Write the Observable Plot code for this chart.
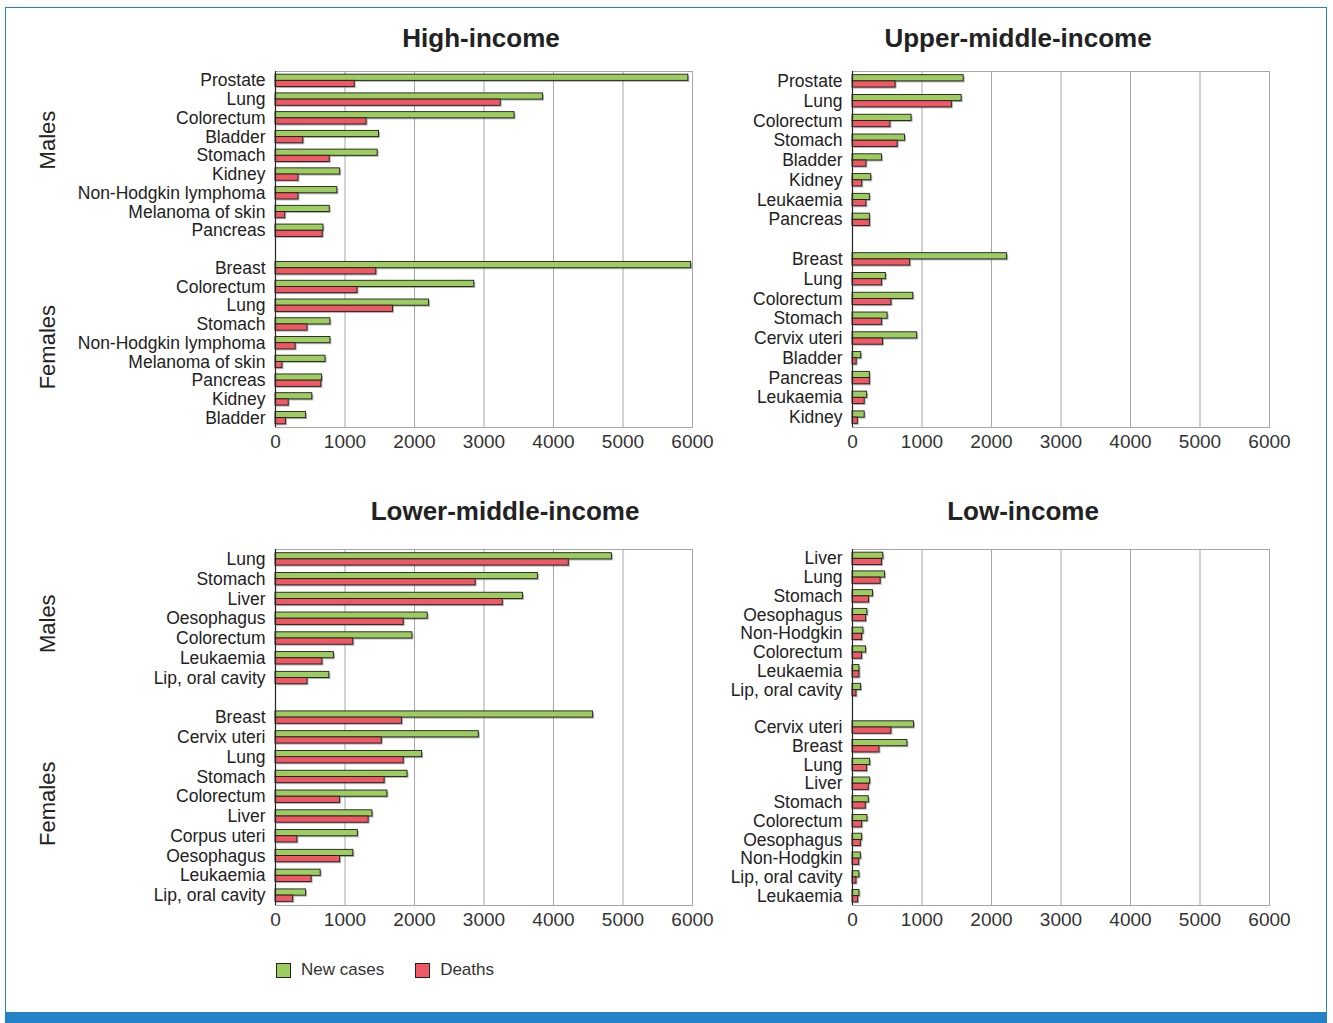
<!DOCTYPE html>
<html>
<head>
<meta charset="utf-8">
<script src="https://cdn.jsdelivr.net/npm/d3@7"></script>
<script src="https://cdn.jsdelivr.net/npm/@observablehq/plot@0.6"></script>
<style>
  html, body { margin: 0; padding: 0; background: #fff; }
  body { width: 1333px; height: 1023px; position: relative; overflow: hidden; font-family: "Liberation Sans", Arial, sans-serif; }
  #frame { position: absolute; left: 5px; top: 7px; width: 1320px; height: 1005px; border: 1px solid #2383c6; border-bottom: none; }
  #bluebar { position: absolute; left: 5px; top: 1012px; width: 1322px; height: 11px; background: #2383c6; }
  .panel { position: absolute; }
  .panel svg { max-width: none; overflow: visible; }
  .title { position: absolute; font-weight: bold; font-size: 26px; color: #222; line-height: 30px; transform: translateX(-50%); white-space: nowrap; font-family: "Liberation Sans", Arial, sans-serif; }
  #legend { position: absolute; left: 276px; top: 960px; display: flex; align-items: center; font-size: 17px; color: #333; }
  .sw { width: 13px; height: 13px; border: 1px solid #222; display: inline-block; margin-right: 10px; }
</style>
</head>
<body>
<div id="frame"></div>
<div id="bluebar"></div>
<div class="title" style="left:481px; top:23px;">High-income</div>
<div class="title" style="left:1018px; top:23px;">Upper-middle-income</div>
<div class="title" style="left:505px; top:496px;">Lower-middle-income</div>
<div class="title" style="left:1023px; top:496px;">Low-income</div>
<div class="panel" id="p1" style="left:0px; top:60px;"></div>
<div class="panel" id="p2" style="left:700px; top:60px;"></div>
<div class="panel" id="p3" style="left:0px; top:538px;"></div>
<div class="panel" id="p4" style="left:700px; top:538px;"></div>
<div id="legend">
  <span class="sw" style="background:#9ecd5f"></span><span style="margin-right:31px">New cases</span>
  <span class="sw" style="background:#ef5965"></span><span>Deaths</span>
</div>
<script>
// ---------- data (thousands) ----------
const xTicks = [0, 1000, 2000, 3000, 4000, 5000, 6000];
const seriesNames = ["New cases", "Deaths"];
const seriesColors = ["#9ecd5f", "#ef5965"];

const highMalesSites   = ["Prostate", "Lung", "Colorectum", "Bladder", "Stomach", "Kidney", "Non-Hodgkin lymphoma", "Melanoma of skin", "Pancreas"];
const highMalesCases   = [5940, 3850, 3440, 1490, 1470, 930, 890, 780, 690];
const highMalesDeaths  = [1140, 3240, 1310, 400, 780, 330, 330, 140, 680];
const highFemalesSites  = ["Breast", "Colorectum", "Lung", "Stomach", "Non-Hodgkin lymphoma", "Melanoma of skin", "Pancreas", "Kidney", "Bladder"];
const highFemalesCases  = [5980, 2860, 2210, 790, 790, 720, 670, 530, 440];
const highFemalesDeaths = [1450, 1180, 1690, 460, 290, 100, 660, 190, 150];

const upperMalesSites   = ["Prostate", "Lung", "Colorectum", "Stomach", "Bladder", "Kidney", "Leukaemia", "Pancreas"];
const upperMalesCases   = [1600, 1570, 850, 755, 425, 270, 250, 250];
const upperMalesDeaths  = [620, 1430, 545, 650, 200, 140, 200, 250];
const upperFemalesSites  = ["Breast", "Lung", "Colorectum", "Stomach", "Cervix uteri", "Bladder", "Pancreas", "Leukaemia", "Kidney"];
const upperFemalesCases  = [2225, 480, 875, 505, 930, 125, 250, 210, 175];
const upperFemalesDeaths = [830, 425, 560, 425, 440, 60, 250, 175, 77];

const lowerMalesSites   = ["Lung", "Stomach", "Liver", "Oesophagus", "Colorectum", "Leukaemia", "Lip, oral cavity"];
const lowerMalesCases   = [4840, 3775, 3560, 2190, 1970, 840, 775];
const lowerMalesDeaths  = [4220, 2880, 3270, 1845, 1120, 675, 460];
const lowerFemalesSites  = ["Breast", "Cervix uteri", "Lung", "Stomach", "Colorectum", "Liver", "Corpus uteri", "Oesophagus", "Leukaemia", "Lip, oral cavity"];
const lowerFemalesCases  = [4570, 2925, 2110, 1900, 1610, 1395, 1185, 1120, 650, 440];
const lowerFemalesDeaths = [1820, 1530, 1845, 1570, 930, 1340, 315, 930, 520, 255];

const lowMalesSites   = ["Liver", "Lung", "Stomach", "Oesophagus", "Non-Hodgkin", "Colorectum", "Leukaemia", "Lip, oral cavity"];
const lowMalesCases   = [443, 467, 295, 214, 157, 195, 100, 124];
const lowMalesDeaths  = [424, 405, 238, 195, 138, 138, 100, 57];
const lowFemalesSites  = ["Cervix uteri", "Breast", "Lung", "Liver", "Stomach", "Colorectum", "Oesophagus", "Non-Hodgkin", "Lip, oral cavity", "Leukaemia"];
const lowFemalesCases  = [885, 790, 254, 254, 234, 215, 139, 120, 100, 100];
const lowFemalesDeaths = [560, 388, 210, 234, 191, 139, 120, 96, 57, 81];

// ---------- drawing ----------
const labelFont = '"Liberation Sans Narrow", "Liberation Sans", Arial, sans-serif';
const baseFont = '"Liberation Sans", Arial, sans-serif';

function buildPanel(el, cfg) {
  const mKeys = cfg.mSites.map(s => "M:" + s);
  const fKeys = cfg.fSites.map(s => "F:" + s);
  const domain = [...mKeys, "gap", ...fKeys];
  const rows = [];
  cfg.mSites.forEach((s, i) => {
    rows.push({key: "M:" + s, series: seriesNames[0], value: cfg.mCases[i]});
    rows.push({key: "M:" + s, series: seriesNames[1], value: cfg.mDeaths[i]});
  });
  cfg.fSites.forEach((s, i) => {
    rows.push({key: "F:" + s, series: seriesNames[0], value: cfg.fCases[i]});
    rows.push({key: "F:" + s, series: seriesNames[1], value: cfg.fDeaths[i]});
  });
  const cases = rows.filter(d => d.series === seriesNames[0]);
  const deaths = rows.filter(d => d.series === seriesNames[1]);

  const mt = 11, mb = 36, plotH = 356;
  const height = mt + plotH + mb;
  const bw = plotH / domain.length;
  const bh = 6.2;
  const gIns = {insetTop: bw / 2 - bh, insetBottom: bw / 2};
  const rIns = {insetTop: bw / 2, insetBottom: bw / 2 - bh};

  const marks = [
    Plot.gridX(xTicks.slice(1), {stroke: "#a6a6a6", strokeOpacity: 1, strokeWidth: 1}),
    Plot.frame({stroke: "#a6a6a6"}),
    // shadows
    Plot.barX(cases, {x: "value", y: "key", ...gIns, fill: "#555", fillOpacity: 0.45, dx: 1.5, dy: 1.5}),
    Plot.barX(deaths, {x: "value", y: "key", ...rIns, fill: "#555", fillOpacity: 0.45, dx: 1.5, dy: 1.5}),
    // bars
    Plot.barX(cases, {x: "value", y: "key", ...gIns, fill: seriesColors[0], stroke: "#1e1e1e", strokeWidth: 0.9}),
    Plot.barX(deaths, {x: "value", y: "key", ...rIns, fill: seriesColors[1], stroke: "#1e1e1e", strokeWidth: 0.9}),
    Plot.ruleX([0], {stroke: "#222", strokeWidth: 1.2}),
    Plot.axisX(xTicks, {tickSize: 0, tickPadding: 7, fontSize: 19, fill: "#333", label: null,
      tickFormat: d => String(d), fontFamily: baseFont}),
    Plot.axisY({tickSize: 0, tickPadding: 10, fontSize: 17.5, fill: "#222", label: null,
      tickFormat: k => k === "gap" ? "" : k.slice(2), fontFamily: labelFont})
  ];
  if (cfg.sexLabels) {
    marks.push(Plot.text([{t: "Males", key: "M:" + cfg.sexLabels.mKey}], {
      text: "t", y: "key", frameAnchor: "left", textAnchor: "middle", dx: -cfg.ml + 47, dy: cfg.sexLabels.mdy, rotate: -90,
      fontSize: 22, fill: "#222", fontFamily: baseFont}));
    marks.push(Plot.text([{t: "Females", key: "F:" + cfg.sexLabels.fKey}], {
      text: "t", y: "key", frameAnchor: "left", textAnchor: "middle", dx: -cfg.ml + 47, dy: cfg.sexLabels.fdy, rotate: -90,
      fontSize: 22, fill: "#222", fontFamily: baseFont}));
  }

  const plot = Plot.plot({
    width: cfg.ml + 417 + 34,
    height,
    marginLeft: cfg.ml,
    marginRight: 34,
    marginTop: mt,
    marginBottom: mb,
    style: {background: "transparent", overflow: "visible"},
    x: {domain: [0, 6000], axis: null},
    y: {domain, padding: 0, round: false, axis: null},
    marks
  });
  el.appendChild(plot);
}

buildPanel(document.getElementById("p1"), {
  ml: 275, mSites: highMalesSites, mCases: highMalesCases, mDeaths: highMalesDeaths,
  fSites: highFemalesSites, fCases: highFemalesCases, fDeaths: highFemalesDeaths,
  sexLabels: {mKey: "Bladder", mdy: 3, fKey: "Non-Hodgkin lymphoma", fdy: 4}
});
buildPanel(document.getElementById("p2"), {
  ml: 152, mSites: upperMalesSites, mCases: upperMalesCases, mDeaths: upperMalesDeaths,
  fSites: upperFemalesSites, fCases: upperFemalesCases, fDeaths: upperFemalesDeaths
});
buildPanel(document.getElementById("p3"), {
  ml: 275, mSites: lowerMalesSites, mCases: lowerMalesCases, mDeaths: lowerMalesDeaths,
  fSites: lowerFemalesSites, fCases: lowerFemalesCases, fDeaths: lowerFemalesDeaths,
  sexLabels: {mKey: "Oesophagus", mdy: 5, fKey: "Colorectum", fdy: 7}
});
buildPanel(document.getElementById("p4"), {
  ml: 152, mSites: lowMalesSites, mCases: lowMalesCases, mDeaths: lowMalesDeaths,
  fSites: lowFemalesSites, fCases: lowFemalesCases, fDeaths: lowFemalesDeaths
});
</script>
</body>
</html>
